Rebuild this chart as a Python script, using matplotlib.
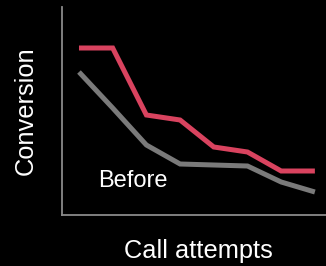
import numpy as np
import matplotlib
matplotlib.use("Agg")
import matplotlib.pyplot as plt

plt.rcParams['font.family'] = ['Liberation Sans', 'DejaVu Sans']

# call attempt index and conversion (arbitrary units)
attempts = np.arange(8)
after = [167, 167, 100, 95, 68, 63, 44, 44]
before = [143, 107, 70, 51, 50, 49, 33, 23]

fig = plt.figure(figsize=(3.26, 2.66), dpi=100, facecolor='black')
ax = fig.add_axes([62/326, 51/266, 264/326, 208/266])
ax.set_facecolor('black')

ax.plot(attempts, before, color='#7a7a7a', lw=3.6, solid_capstyle='butt', solid_joinstyle='miter')
ax.plot(attempts, after, color='#d9435f', lw=3.6, solid_capstyle='butt', solid_joinstyle='miter')

ax.text(0.56, 28, 'Before', color='white', fontsize=17, ha='left', va='baseline')

ax.set_xlim(-0.504, 7.33)
ax.set_ylim(0, 208)
ax.set_xticks([])
ax.set_yticks([])
for s in ['top', 'right']:
    ax.spines[s].set_visible(False)
for s in ['left', 'bottom']:
    ax.spines[s].set_color('#8a8a8a')
    ax.spines[s].set_linewidth(1.3)

fig.text(198/326, 1 - 251/266, 'Call attempts', color='white', fontsize=18.3, ha='center', va='center')
fig.text(26/326, 1 - 111/266, 'Conversion', color='white', fontsize=18.3, ha='center', va='center', rotation=90)

fig.savefig('out.png', dpi=100, facecolor='black')
